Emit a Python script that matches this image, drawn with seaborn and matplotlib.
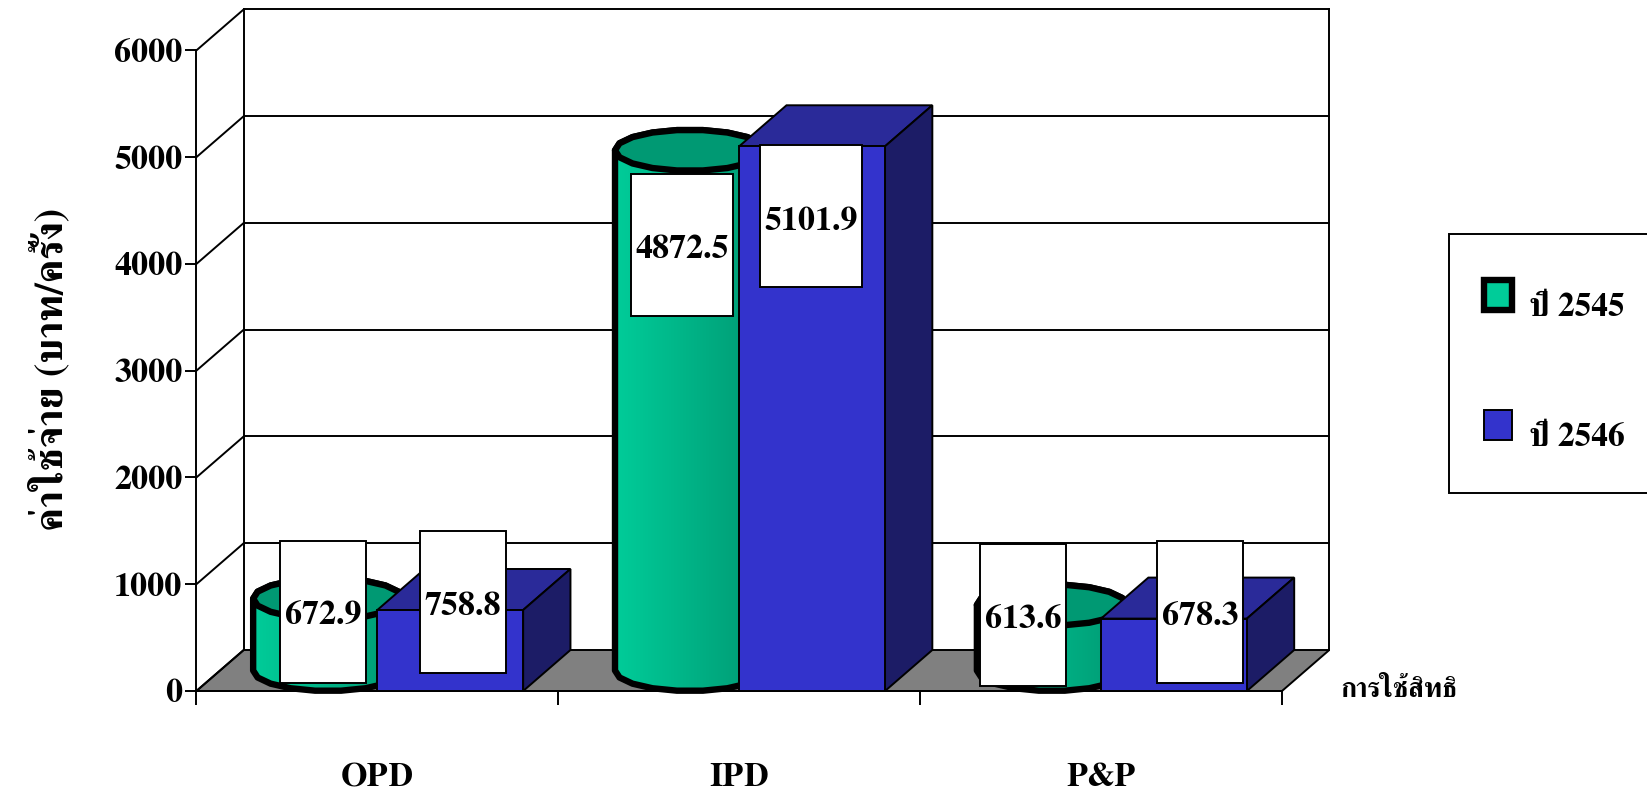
import numpy as np
import pandas as pd
import matplotlib
matplotlib.use("Agg")
import matplotlib.pyplot as plt
from matplotlib.colors import LinearSegmentedColormap
from matplotlib.patches import Patch, Polygon, Rectangle
import seaborn as sns

# values
categories = ["OPD", "IPD", "P&P"]
years = ["ปี 2545", "ปี 2546"]
cost_2545 = [672.9, 4872.5, 613.6]
cost_2546 = [758.8, 5101.9, 678.3]
y_ticks = [0, 1000, 2000, 3000, 4000, 5000, 6000]
y_title = "ค่าใช้จ่าย (บาท/ครั้ง)"
x_title = "การใช้สิทธิ"

# where the white label boxes sit, pixels from the top centre of the bar
label_shift_2545 = [(19, 7.5), (16, -74), (-5, 10.5)]
label_shift_2546 = [(12.5, 8), (-1, -70), (26, 7)]

W, H = 1647, 793
LEFT, RIGHT, TOP, BOTTOM = 196.4, 1282, 50.4, 691
DEPTH_X, DEPTH_Y = 47.3, 41

GREEN = "#00CC99"
GREEN_DARK = "#009973"
BLUE = "#3333CC"
BLUE_TOP = "#2A2A99"
BLUE_SIDE = "#1C1C66"
LINE = 1.4
THICK = 4.6

sns.set_theme(style="white")
plt.rcParams["font.family"] = ["FreeSerif", "DejaVu Sans"]
plt.rcParams["font.weight"] = "bold"

df = pd.DataFrame({
    "right": categories * 2,
    "year": [years[0]] * 3 + [years[1]] * 3,
    "cost": cost_2545 + cost_2546,
})

fig = plt.figure(figsize=(W / 100, H / 100), dpi=100)
ax = fig.add_axes([LEFT / W, 1 - BOTTOM / H, (RIGHT - LEFT) / W, (BOTTOM - TOP) / H])

sns.barplot(data=df, x="right", y="cost", hue="year", hue_order=years, palette=[GREEN, BLUE],
            width=0.806, gap=0, saturation=1, legend=False, edgecolor="black", linewidth=LINE,
            zorder=4, ax=ax)
ax.set_xlim(-0.5, 2.5)
ax.set_ylim(0, 6000)

# pixels to data units
px_x = 3 / (RIGHT - LEFT)
px_y = 6000 / (BOTTOM - TOP)
dx = DEPTH_X * px_x
dy = DEPTH_Y * px_y


def wall_line(xs, ys):
    ax.plot(xs, ys, color="black", lw=LINE, clip_on=False, zorder=1, solid_capstyle="projecting")


# floor and walls
ax.add_patch(Polygon([(-0.5, 0), (-0.5 + dx, dy), (2.5 + dx, dy), (2.5, 0)], closed=True,
                     facecolor="#808080", edgecolor="black", lw=LINE, clip_on=False, zorder=0.5))
for t in y_ticks[1:]:
    wall_line([-0.5 + dx, 2.5 + dx], [t + dy, t + dy])
for t in y_ticks:
    wall_line([-0.5, -0.5 + dx], [t, t + dy])
wall_line([-0.5 + dx, -0.5 + dx], [dy, 6000 + dy])
wall_line([2.5 + dx, 2.5 + dx], [dy, 6000 + dy])

# blue bars: seaborn draws the front, side and top are added from its rectangles
bars_2545, bars_2546 = ax.containers[0], ax.containers[1]
for bar in bars_2546:
    x0, w, h = bar.get_x(), bar.get_width(), bar.get_height()
    ax.add_patch(Polygon([(x0, h), (x0 + dx, h + dy), (x0 + w + dx, h + dy), (x0 + w, h)], closed=True,
                         facecolor=BLUE_TOP, edgecolor="black", lw=LINE, clip_on=False, zorder=3.8))
    ax.add_patch(Polygon([(x0 + w, 0), (x0 + w + dx, dy), (x0 + w + dx, h + dy), (x0 + w, h)], closed=True,
                         facecolor=BLUE_SIDE, edgecolor="black", lw=LINE, clip_on=False, zorder=3.8))

# green bars are cylinders standing on the same rectangles
ramp = LinearSegmentedColormap.from_list("cyl", [GREEN, GREEN_DARK])
angles = np.linspace(0, 2 * np.pi, 19)
for bar in bars_2545:
    bar.set_visible(False)
    x0, w, h = bar.get_x(), bar.get_width(), bar.get_height()
    xc = x0 + (w + dx) / 2
    hw = (w + 4 * px_x) / 2
    ex = xc + hw * np.cos(angles)
    ey = dy / 2 * np.sin(angles)
    lower = angles[9:]
    low_x = xc + hw * np.cos(lower)
    low_y = dy / 2 + dy / 2 * np.sin(lower)
    outline = np.column_stack([np.r_[low_x, xc + hw * np.cos(angles[:10])],
                               np.r_[low_y, h + dy / 2 + dy / 2 * np.sin(angles[:10])]])
    body = Polygon(outline, closed=True, facecolor="none", edgecolor="black", lw=THICK, clip_on=False,
                   joinstyle="round", zorder=3.2)
    img = ax.imshow(np.linspace(0, 1, 64).reshape(1, -1), cmap=ramp, aspect="auto", zorder=3,
                    extent=(xc - hw, xc + hw, 0, h + dy))
    ax.add_patch(body)
    img.set_clip_path(body)
    ax.add_patch(Polygon(np.column_stack([ex, h + dy / 2 + ey]), closed=True, facecolor=GREEN_DARK,
                         edgecolor="black", lw=THICK, clip_on=False, joinstyle="round", zorder=3.4))
ax.set_xlim(-0.5, 2.5)
ax.set_ylim(0, 6000)
ax.set_aspect("auto")

# white value boxes
for bars, values, shifts in [(bars_2545, cost_2545, label_shift_2545), (bars_2546, cost_2546, label_shift_2546)]:
    for bar, v, (sx, sy) in zip(bars, values, shifts):
        cx = bar.get_x() + bar.get_width() / 2 + sx * px_x
        cy = v + sy * px_y
        bw = (102 if v >= 1000 else 86) * px_x
        bh = 142 * px_y
        ax.add_patch(Rectangle((cx - bw / 2, cy - bh / 2), bw, bh, facecolor="white", edgecolor="black",
                               lw=LINE, clip_on=False, zorder=6))
        ax.text(cx, cy - 2 * px_y, f"{v:.1f}", ha="center", va="center_baseline", fontsize=24.5,
                fontweight="bold", color="black", zorder=7)

# axes
sns.despine(ax=ax, top=True, right=True)
for side in ["left", "bottom"]:
    ax.spines[side].set_color("black")
    ax.spines[side].set_linewidth(LINE)
    ax.spines[side].set_zorder(2)
ax.set_yticks(y_ticks)
ax.set_xticks([0, 1, 2], categories)
ax.set_xticks([-0.5, 0.5, 1.5, 2.5], minor=True)
ax.tick_params(axis="y", left=True, length=8, width=LINE, pad=2, labelsize=24.5, color="black", labelcolor="black")
ax.tick_params(axis="x", which="major", bottom=False, length=0, pad=52, labelsize=24.5, labelcolor="black")
ax.tick_params(axis="x", which="minor", bottom=True, length=9.8, width=LINE, color="black")
for lab in ax.get_yticklabels():
    lab.set_va("center_baseline")
ax.set_xlabel("")
ax.set_ylabel(y_title, fontsize=29, fontweight="bold", color="black")
ax.yaxis.set_label_coords(-0.116, 0.502)
ax.annotate(x_title, xy=(1.0535, 0.001), xycoords="axes fraction", fontsize=19.5, fontweight="bold",
            color="black", ha="left", va="center", annotation_clip=False)

# legend
fig.add_artist(Rectangle((1449 / W, 1 - 493 / H), 300 / W, 259 / H, transform=fig.transFigure,
                         facecolor="white", edgecolor="black", lw=LINE))
handles = [Patch(facecolor=GREEN, edgecolor="black", lw=THICK, joinstyle="round"),
           Patch(facecolor=BLUE, edgecolor="black", lw=LINE)]
leg = fig.legend(handles, years, loc="upper left", bbox_to_anchor=(1484 / W, 1 - 280 / H), frameon=False,
                 fontsize=24, labelspacing=2.9, handlelength=0.85, handleheight=1.0, handletextpad=0.5,
                 borderpad=0, borderaxespad=0, labelcolor="black")
for t in leg.get_texts():
    t.set_y(-10)

fig.savefig("out.png", dpi=100)
